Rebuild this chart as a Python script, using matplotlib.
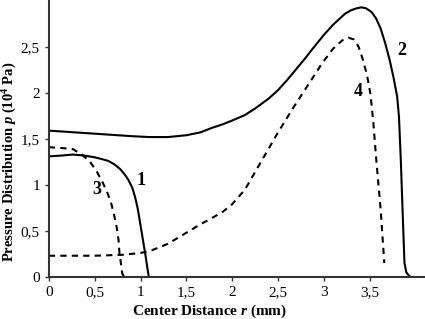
import matplotlib
matplotlib.use("Agg")
import matplotlib.pyplot as plt

plt.rcParams['font.family'] = ['Liberation Serif', 'DejaVu Serif']
plt.rcParams['mathtext.fontset'] = 'custom'
plt.rcParams['mathtext.rm'] = 'Liberation Serif:bold'
plt.rcParams['mathtext.it'] = 'Liberation Serif:bold:italic'
plt.rcParams['mathtext.bf'] = 'Liberation Serif:bold'

# Curve 1 (solid)
r1 = [0, 0.15, 0.26, 0.38, 0.5, 0.58, 0.65, 0.72, 0.78, 0.83, 0.87, 0.91, 0.94, 0.97, 0.99,
      1.01, 1.03, 1.05, 1.07, 1.09]
p1 = [1.31, 1.32, 1.33, 1.32, 1.30, 1.28, 1.26, 1.22, 1.17, 1.11, 1.05, 0.97, 0.87, 0.74, 0.62,
      0.50, 0.38, 0.26, 0.13, 0.0]

# Curve 2 (solid)
r2 = [0, 0.3, 0.6, 0.9, 1.1, 1.3, 1.5, 1.65, 1.78, 1.9, 2.0, 2.14, 2.25, 2.4, 2.5, 2.6, 2.7,
      2.8, 2.87, 3.0, 3.1, 3.23, 3.3, 3.36, 3.41, 3.46, 3.52, 3.57, 3.62, 3.67, 3.72, 3.76,
      3.80, 3.82, 3.84, 3.86, 3.88, 3.90, 3.93, 3.95]
p2 = [1.59, 1.57, 1.55, 1.53, 1.52, 1.52, 1.54, 1.57, 1.62, 1.66, 1.70, 1.76, 1.83, 1.94, 2.03,
      2.14, 2.26, 2.38, 2.47, 2.63, 2.74, 2.86, 2.90, 2.92, 2.93, 2.92, 2.88, 2.81, 2.70, 2.54,
      2.35, 2.17, 1.96, 1.74, 1.27, 0.70, 0.15, 0.05, 0.01, 0.0]

# Curve 3 (dashed)
r3 = [0, 0.15, 0.26, 0.36, 0.45, 0.52, 0.59, 0.64, 0.68, 0.71, 0.74, 0.76, 0.77, 0.79, 0.80,
      0.82]
p3 = [1.41, 1.40, 1.39, 1.33, 1.25, 1.15, 1.02, 0.91, 0.80, 0.68, 0.54, 0.40, 0.26, 0.12, 0.04,
      0.0]

# Curve 4 (dashed)
r4 = [0, 0.5, 0.8, 1.0, 1.1, 1.3, 1.5, 1.65, 1.78, 1.9, 2.0, 2.14, 2.32, 2.5, 2.68, 2.85,
      2.98, 3.1, 3.2, 3.27, 3.33, 3.38, 3.42, 3.47, 3.51, 3.54, 3.57, 3.62, 3.66]
p4 = [0.23, 0.23, 0.24, 0.26, 0.28, 0.36, 0.48, 0.57, 0.64, 0.71, 0.79, 0.95, 1.26, 1.57, 1.86, 2.12,
      2.32, 2.48, 2.57, 2.60, 2.58, 2.50, 2.38, 2.20, 1.98, 1.68, 1.30, 0.73, 0.15]

xticks = [0, 0.5, 1, 1.5, 2, 2.5, 3, 3.5]
xticklabels = ['0', '0,5', '1', '1,5', '2', '2,5', '3', '3,5']
yticks = [0, 0.5, 1, 1.5, 2, 2.5]
yticklabels = ['0', '0,5', '1', '1,5', '2', '2,5']

labels = ['1', '2', '3', '4']
label_pos = [(1.01, 1.05), (3.85, 2.46), (0.52, 0.95), (3.38, 2.01)]

fig = plt.figure(figsize=(4.25, 3.19), dpi=100)
ax = fig.add_axes([0.115, 0.132, 0.882, 0.868])

lw = 1.5
ax.plot(r1, p1, color='black', lw=lw)
ax.plot(r2, p2, color='black', lw=lw)
ax.plot(r3, p3, color='black', lw=lw, linestyle=(0, (3, 2.5)))
ax.plot(r4, p4, color='black', lw=lw, linestyle=(0, (3, 2.5)))

for t, (x, y) in zip(labels, label_pos):
    ax.text(x, y, t, fontsize=13, fontweight='bold', ha='center', va='center')

ax.set_xlim(0, 4.09)
ax.set_ylim(0, 3.01)
ax.set_xticks(xticks)
ax.set_xticklabels(xticklabels)
ax.set_yticks(yticks)
ax.set_yticklabels(yticklabels)
ax.tick_params(labelsize=11, length=3, width=1, colors='#333333', labelcolor='black')
for s in ['top', 'right']:
    ax.spines[s].set_visible(False)
for s in ['left', 'bottom']:
    ax.spines[s].set_linewidth(1.5)
    ax.spines[s].set_color('#333333')

ax.set_xlabel(r'Center Distance $r$ (mm)', fontsize=11, fontweight='bold')
ax.xaxis.set_label_coords(0.428, -0.092)
ax.set_ylabel(r'Pressure Distribution $p$ (10$^{4}$ Pa)', fontsize=10.5, fontweight='bold')
ax.yaxis.set_label_coords(-0.08, 0.415)

fig.savefig('out.png', dpi=100)
